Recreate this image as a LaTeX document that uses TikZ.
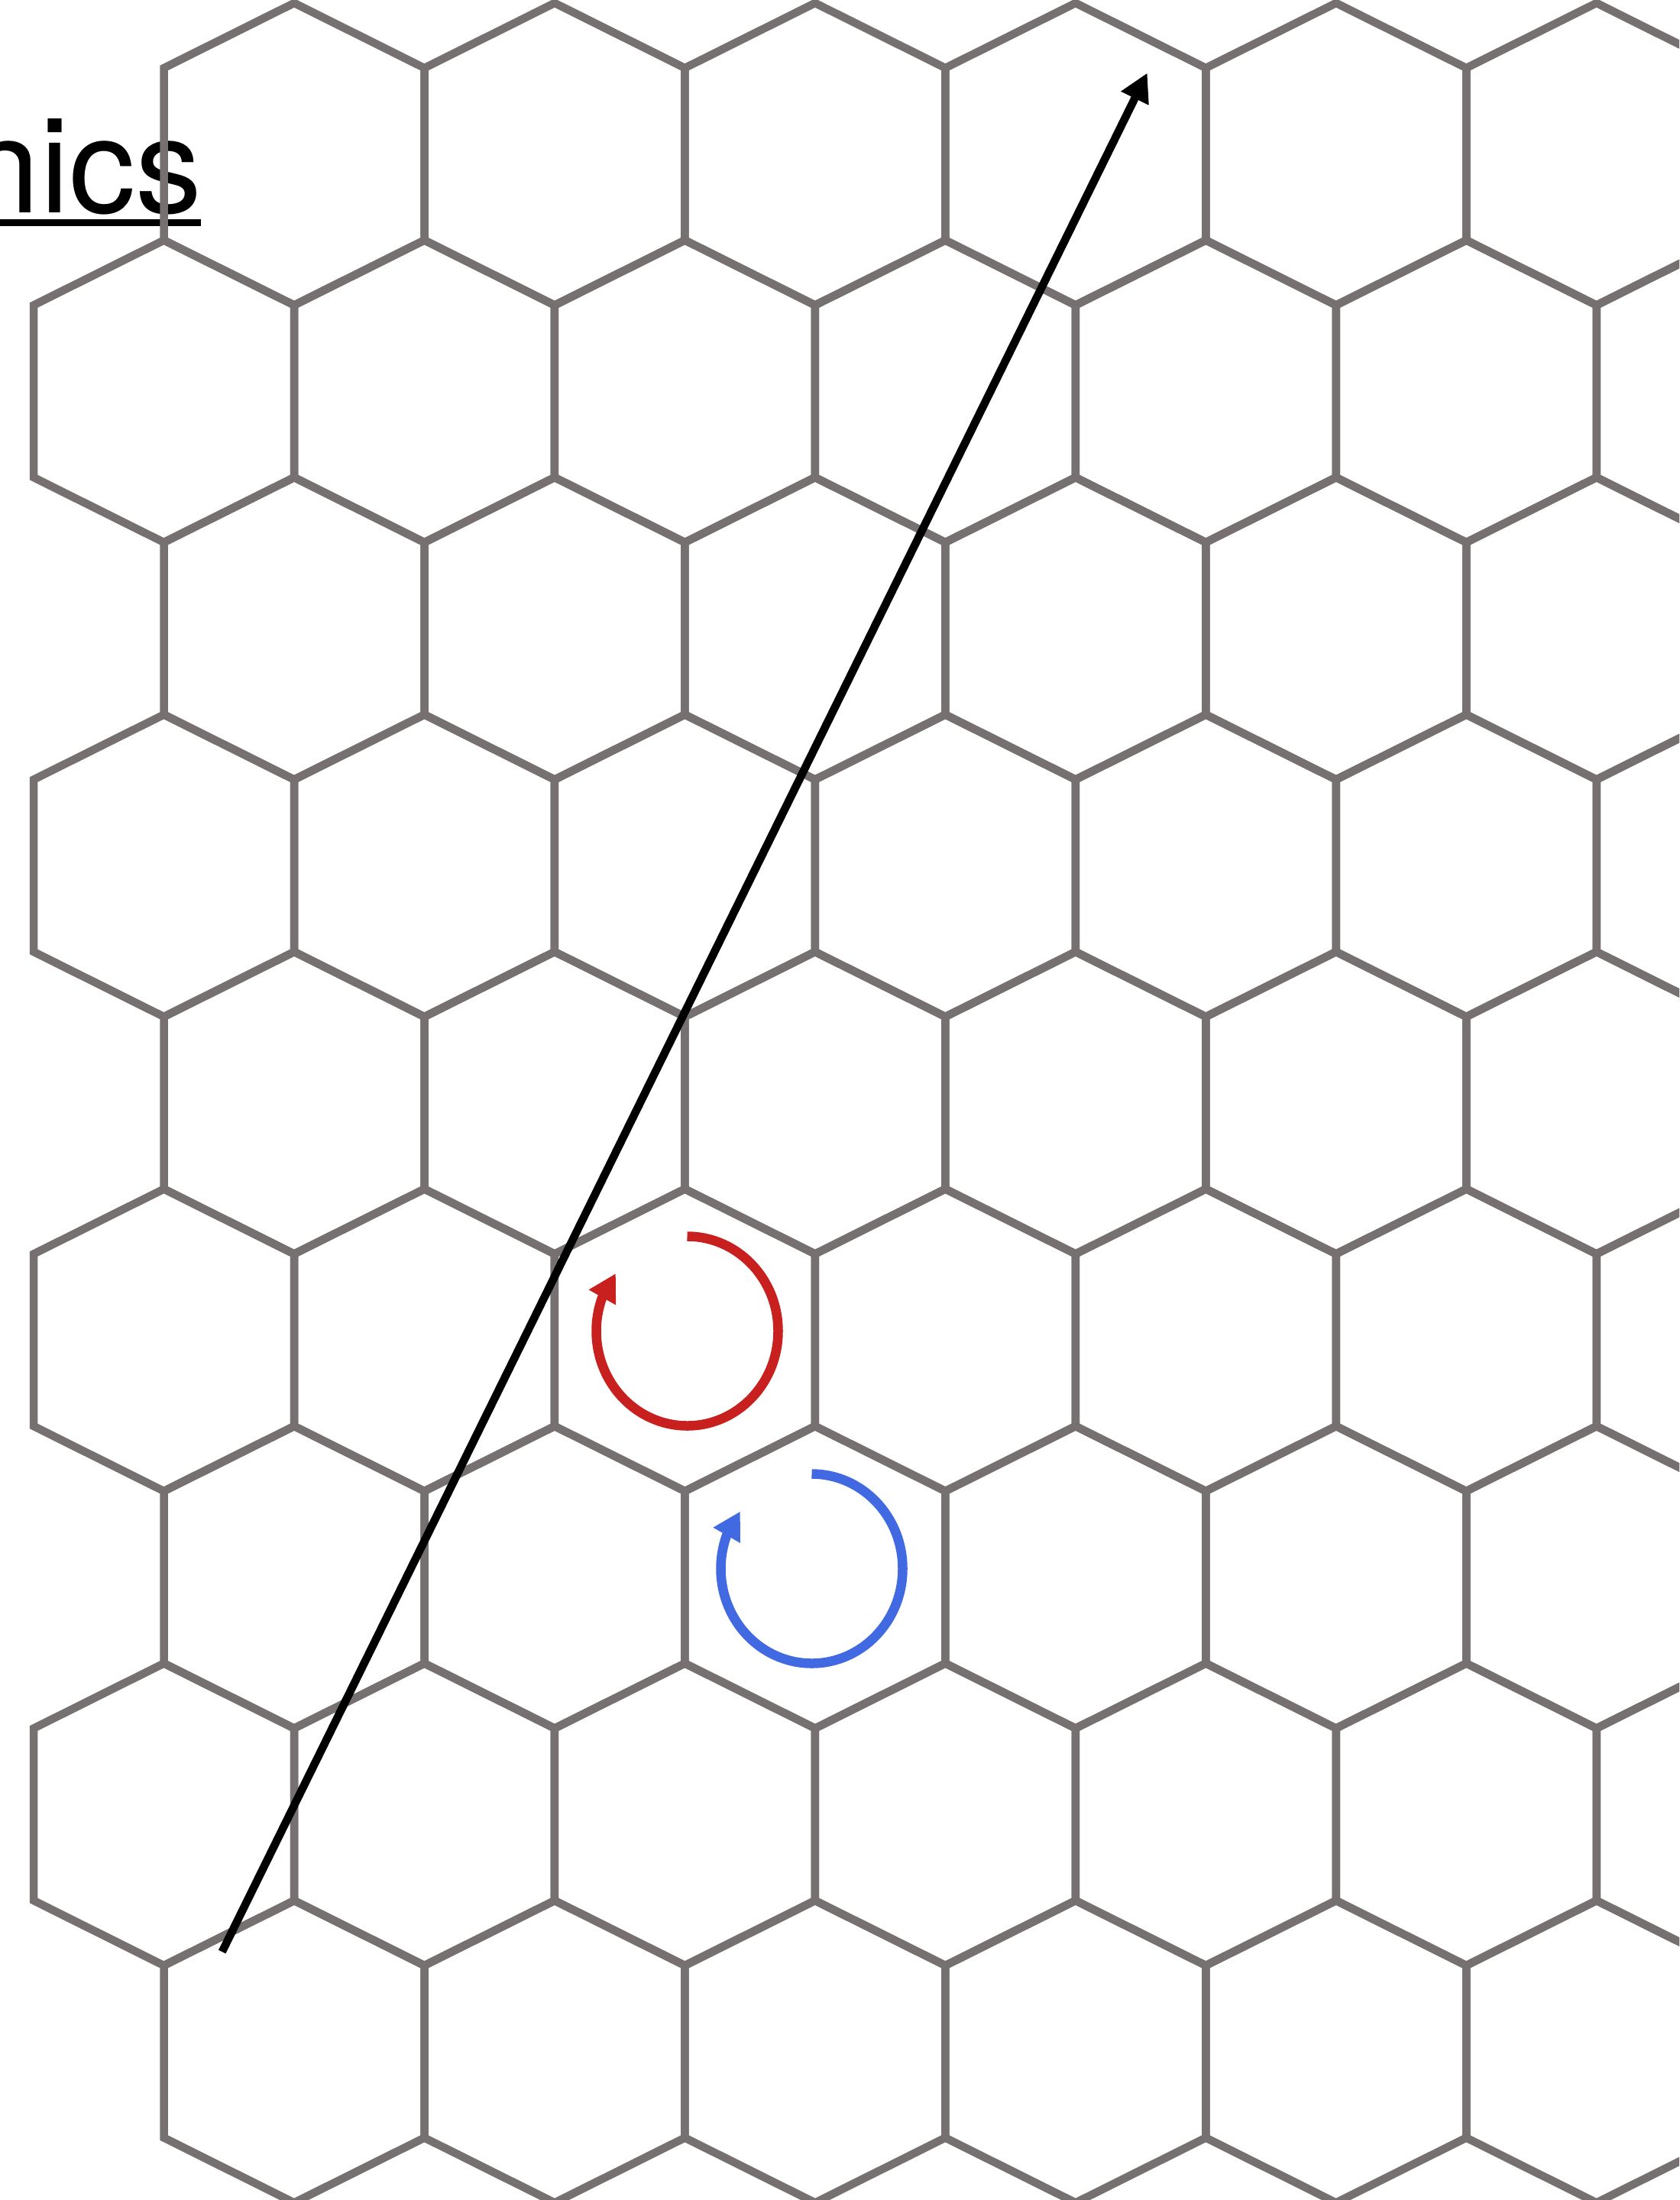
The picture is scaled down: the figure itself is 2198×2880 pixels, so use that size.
\documentclass[tikz,border=0pt]{standalone}
\usepackage{fontspec}
\setmainfont{TeX Gyre Heros}
\usetikzlibrary{arrows.meta}
\definecolor{hexgray}{RGB}{118,113,112}
\definecolor{loopred}{RGB}{200,32,30}
\definecolor{loopblue}{RGB}{65,105,225}
\begin{document}
\begin{tikzpicture}[x=1pt,y=-1pt,
  gridline/.style={draw=hexgray, line width=10.5pt, line join=miter},
  bigarrow/.style={draw=black, line width=10.5pt, -{Triangle[length=37pt,width=38pt]}},
  redloop/.style={draw=loopred, line width=12.5pt, -{Triangle[length=36pt,width=38pt]}},
  blueloop/.style={draw=loopblue, line width=12.5pt, -{Triangle[length=36pt,width=38pt]}},
  titletext/.style={anchor=base east, inner sep=0pt, font=\fontsize{174pt}{210pt}\selectfont}]
\useasboundingbox (0,0) rectangle (2198,2880);
\clip (0,0) rectangle (2198,2880);
\fill[white] (0,0) rectangle (2198,2880);
% title fragment
\node[titletext] (title) at (265,278) {nics};
\coordinate (ulL) at (-20,291.5);
\coordinate (ulR) at (263,291.5);
\draw[line width=8.5pt] (ulL) -- (ulR);
% hexagonal grid
\foreach \r in {0,...,8}{
  \pgfmathtruncatemacro\rp{mod(\r,2)}
  \foreach \k in {0,...,6}{
    \pgfmathsetmacro\cx{44.1+170.47*(2*\k+2-\rp)}
    \pgfmathsetmacro\ty{4+310.5*\r}
    \draw[gridline] (\cx,\ty) -- ++(170.47,85) -- ++(0,225.5) -- ++(-170.47,85)
      -- ++(-170.47,-85) -- ++(0,-225.5) -- cycle;
  }
}
% long arrow
\coordinate (a0) at (290.7,2555);
\coordinate (a1) at (1501.7,95.5);
\draw[bigarrow] (a0) -- (a1);
% red loop
\coordinate (rs) at (899.5,1618.5);
\coordinate (rt) at (806,1667);
\draw[redloop] (rs) arc[start angle=90, end angle=-200.7, x radius=119pt, y radius=124pt] -- (rt);
% blue loop
\coordinate (bs) at (1062.5,1929.5);
\coordinate (bt) at (969,1978.5);
\draw[blueloop] (bs) arc[start angle=90, end angle=-200.7, x radius=119pt, y radius=124pt] -- (bt);
\end{tikzpicture}
\end{document}
